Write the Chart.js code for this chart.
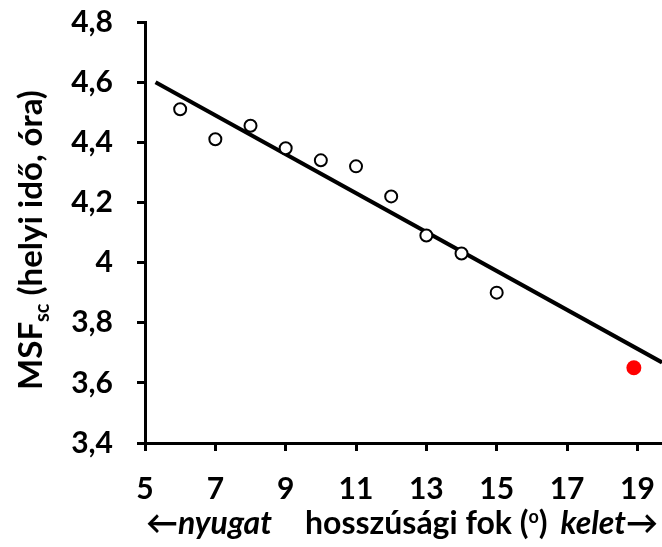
<!DOCTYPE html>
<html>
<head>
<meta charset="utf-8">
<script src="https://cdn.jsdelivr.net/npm/chart.js@4.4.1/dist/chart.umd.min.js"></script>
<style>
  html, body { margin: 0; padding: 0; overflow: hidden; background: #fff; }
  #wrap { width: 662px; height: 547px; }
</style>
</head>
<body>
<div id="wrap"><canvas id="msfChart"></canvas></div>
<script>
// hosszúsági fok (x) és MSFsc középidő (y)
const hosszusag = [6, 7, 8, 9, 10, 11, 12, 13, 14, 15];
const msf = [4.51, 4.41, 4.455, 4.38, 4.34, 4.32, 4.22, 4.09, 4.03, 3.90];

// a piros pont
const kiemeltX = [18.9];
const kiemeltY = [3.65];

// illesztett egyenes két végpontja
const trendX = [5.3, 19.7];
const trendY = [4.60, 3.668];

const xTicks = [5, 7, 9, 11, 13, 15, 17, 19];
const yTicks = [3.4, 3.6, 3.8, 4.0, 4.2, 4.4, 4.6, 4.8];

const FONT = 'Lato, "Open Sans", sans-serif';

const toPoints = (xs, ys) => xs.map((x, i) => ({ x: x, y: ys[i] }));

// egy sornyi, vegyes stílusú szöveg kiírása; visszaadja a szélességét
function drawRun(ctx, parts, x, y, measureOnly) {
  let w = 0;
  parts.forEach(p => {
    ctx.font = p.f;
    const pw = ctx.measureText(p.t).width;
    if (!measureOnly) ctx.fillText(p.t, x + w, y + (p.dy || 0));
    w += pw;
  });
  return w;
}

// tengelyfeliratok kézzel, mert alsó/felső indexet is tartalmaznak
const axisTitles = {
  id: 'axisTitles',
  afterDraw(chart) {
    const ctx = chart.ctx;
    ctx.save();
    ctx.fillStyle = '#000';
    ctx.textBaseline = 'alphabetic';

    // függőleges cím: MSF_sc (helyi idő, óra)
    const big = 'bold 33px ' + FONT;
    const small = 'bold 20px ' + FONT;
    const yParts = [
      { t: 'MSF', f: big },
      { t: 'sc', f: small, dy: 7 },
      { t: ' (helyi idő, óra)', f: big }
    ];
    const total = drawRun(ctx, yParts, 0, 0, true);
    ctx.translate(42, 240);
    ctx.rotate(-Math.PI / 2);
    drawRun(ctx, yParts, -total / 2, 0);
    ctx.setTransform(1, 0, 0, 1, 0, 0);

    // vízszintes cím három darabban
    const b = 'bold 32px ' + FONT;
    const bi = 'italic bold 32px ' + FONT;
    const sup = 'bold 18px ' + FONT;
    const base = 534;
    drawRun(ctx, [{ t: '←', f: b }, { t: 'nyugat', f: bi }], 146, base);
    drawRun(ctx, [
      { t: 'hosszúsági fok (', f: b },
      { t: 'o', f: sup, dy: -11 },
      { t: ')', f: b }
    ], 305, base);
    const right = [{ t: 'kelet', f: bi }, { t: '→', f: b }];
    const rw = drawRun(ctx, right, 0, 0, true);
    drawRun(ctx, right, 658 - rw, base);
    ctx.restore();
  }
};

new Chart(document.getElementById('msfChart'), {
  type: 'scatter',
  data: {
    datasets: [
      {
        type: 'line',
        data: toPoints(trendX, trendY),
        borderColor: '#000',
        borderWidth: 4,
        pointRadius: 0,
        fill: false,
        order: 3
      },
      {
        data: toPoints(hosszusag, msf),
        pointRadius: 6,
        pointBorderWidth: 2,
        pointBackgroundColor: '#fff',
        pointBorderColor: '#000',
        order: 1
      },
      {
        data: toPoints(kiemeltX, kiemeltY),
        pointRadius: 7.5,
        pointBorderWidth: 0,
        pointBackgroundColor: '#ff0000',
        pointBorderColor: '#ff0000',
        order: 2
      }
    ]
  },
  options: {
    responsive: true,
    maintainAspectRatio: false,
    animation: false,
    layout: { autoPadding: false, padding: { top: 22, right: 0, left: 0, bottom: 0 } },
    plugins: {
      legend: { display: false },
      tooltip: { enabled: false }
    },
    scales: {
      x: {
        type: 'linear',
        min: 5,
        max: 19.7,
        afterBuildTicks: s => { s.ticks = xTicks.map(v => ({ value: v })); },
        afterFit: s => { s.height = 104; s.paddingLeft = 0; s.paddingRight = 0; },
        border: { color: '#000', width: 3 },
        grid: { drawOnChartArea: false, drawTicks: true, tickLength: 8, color: '#000', lineWidth: 3 },
        ticks: {
          color: '#000',
          padding: 20,
          font: { family: FONT, size: 30, weight: 'bold' }
        }
      },
      y: {
        type: 'linear',
        min: 3.4,
        max: 4.8,
        afterBuildTicks: s => { s.ticks = yTicks.map(v => ({ value: v })); },
        afterFit: s => { s.width = 145; s.paddingTop = 0; s.paddingBottom = 0; },
        border: { color: '#000', width: 3 },
        grid: { drawOnChartArea: false, drawTicks: true, tickLength: 8, color: '#000', lineWidth: 3 },
        ticks: {
          color: '#000',
          padding: 24,
          font: { family: FONT, size: 30, weight: 'bold' },
          callback: v => String(Math.round(v * 10) / 10).replace('.', ',')
        }
      }
    }
  },
  plugins: [axisTitles]
});
</script>
</body>
</html>
